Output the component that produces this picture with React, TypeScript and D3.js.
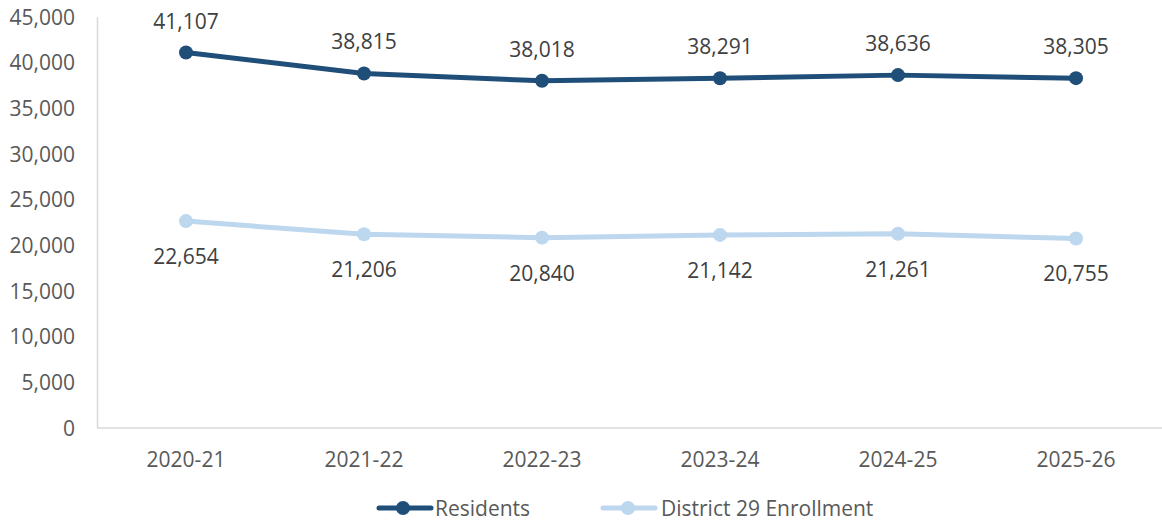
import * as d3 from "d3";

const categories = ["2020-21", "2021-22", "2022-23", "2023-24", "2024-25", "2025-26"];
const residents = [41107, 38815, 38018, 38291, 38636, 38305];
const enrollment = [22654, 21206, 20840, 21142, 21261, 20755];
const yTicks = [0, 5000, 10000, 15000, 20000, 25000, 30000, 35000, 40000, 45000];

const W = 1162;
const H = 521;
const FONT = "'Open Sans', sans-serif";
const FS = 21;
const DARK = "#1F4E79";
const LIGHT = "#BDD7EE";

export default function App() {
  const x = d3.scaleBand().domain(categories).range([97, 1165]);
  const y = d3.scaleLinear().domain([0, 45000]).range([428, 17]);
  const cx = (c: string) => (x(c) ?? 0) + x.bandwidth() / 2;
  const fmt = d3.format(",");
  const line = d3
    .line<number>()
    .x((_, i) => cx(categories[i]))
    .y((d) => y(d));

  const series = [
    { name: "Residents", values: residents, color: DARK, dy: -24 },
    { name: "District 29 Enrollment", values: enrollment, color: LIGHT, dy: 43 },
  ];

  return (
    <svg width={W} height={H} style={{ position: "absolute", left: 0, top: 0 }}>
      <rect width={W} height={H} fill="#fff" />
      <line x1={97.5} x2={97.5} y1={17} y2={428} stroke="#d9d9d9" strokeWidth={1.5} />
      <line x1={97} x2={W} y1={428} y2={428} stroke="#d9d9d9" strokeWidth={1.5} />
      {yTicks.map((t) => (
        <text key={t} x={75} y={y(t) + 7.5} textAnchor="end" fontFamily={FONT} fontSize={FS} fill="#595959">
          {fmt(t)}
        </text>
      ))}
      {categories.map((c) => (
        <text key={c} x={cx(c)} y={467} textAnchor="middle" fontFamily={FONT} fontSize={FS} fill="#595959">
          {c}
        </text>
      ))}
      {series.map((s) => (
        <g key={s.name}>
          <path d={line(s.values) ?? ""} fill="none" stroke={s.color} strokeWidth={5} strokeLinejoin="round" />
          {s.values.map((v, i) => (
            <circle key={i} cx={cx(categories[i])} cy={y(v)} r={7} fill={s.color} />
          ))}
          {s.values.map((v, i) => (
            <text key={"l" + i} x={cx(categories[i])} y={y(v) + s.dy} textAnchor="middle" fontFamily={FONT} fontSize={FS} fill="#404040">
              {fmt(v)}
            </text>
          ))}
        </g>
      ))}
      <g>
        <line x1={379} x2={431} y1={508} y2={508} stroke={DARK} strokeWidth={5} strokeLinecap="round" />
        <circle cx={403} cy={508} r={7} fill={DARK} />
        <text x={435} y={516} fontFamily={FONT} fontSize={FS} fill="#595959">Residents</text>
        <line x1={603} x2={655} y1={508} y2={508} stroke={LIGHT} strokeWidth={5} strokeLinecap="round" />
        <circle cx={628} cy={508} r={7} fill={LIGHT} />
        <text x={661} y={516} fontFamily={FONT} fontSize={FS} fill="#595959">District 29 Enrollment</text>
      </g>
    </svg>
  );
}
